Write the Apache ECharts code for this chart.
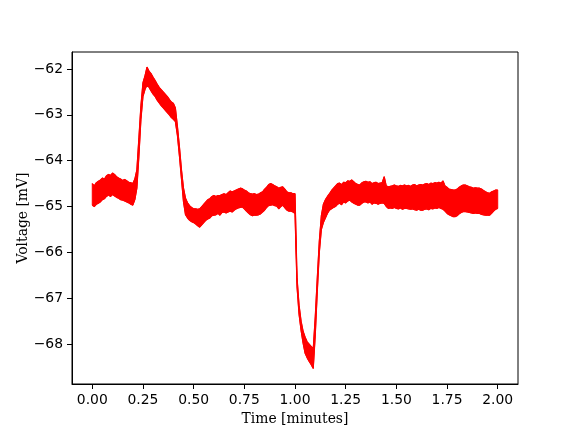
<!DOCTYPE html>
<html>
<head>
<meta charset="utf-8">
<script src="https://cdn.jsdelivr.net/npm/echarts@6/dist/echarts.min.js"></script>
<style>html,body{margin:0;padding:0;background:#fff;}#c{width:576px;height:432px;}</style>
</head>
<body>
<div id="c"></div>
<script>
// Upper envelope of the noisy trace (mV), sampled every 0.01 min from 0.00 to 2.00
const upper = [
  -64.50,-64.55,-64.48,-64.45,-64.42,-64.38,-64.40,-64.33,-64.30,-64.32,
  -64.27,-64.30,-64.35,-64.38,-64.40,-64.43,-64.41,-64.44,-64.47,-64.48,
  -64.50,-64.40,-64.20,-63.50,-62.80,-62.30,-62.15,-61.96,-62.05,-62.10,
  -62.18,-62.25,-62.33,-62.40,-62.45,-62.50,-62.55,-62.60,-62.66,-62.72,
  -62.75,-62.85,-63.25,-63.70,-64.20,-64.60,-64.82,-64.92,-64.98,-65.02,
  -65.05,-65.05,-65.06,-65.05,-65.00,-64.95,-64.90,-64.85,-64.83,-64.78,
  -64.76,-64.78,-64.76,-64.76,-64.74,-64.72,-64.74,-64.70,-64.66,-64.68,
  -64.66,-64.64,-64.62,-64.60,-64.61,-64.64,-64.66,-64.70,-64.72,-64.73,
  -64.72,-64.74,-64.73,-64.70,-64.68,-64.62,-64.58,-64.52,-64.50,-64.52,
  -64.55,-64.57,-64.60,-64.58,-64.57,-64.62,-64.68,-64.70,-64.70,-64.72,
  -64.72,-66.55,-67.15,-67.50,-67.72,-67.85,-67.95,-68.00,-68.05,-68.10,
  -67.40,-66.55,-65.75,-65.20,-64.95,-64.85,-64.78,-64.72,-64.65,-64.60,
  -64.55,-64.50,-64.49,-64.52,-64.47,-64.48,-64.44,-64.45,-64.42,-64.46,
  -64.50,-64.52,-64.53,-64.48,-64.46,-64.45,-64.47,-64.46,-64.50,-64.48,
  -64.47,-64.50,-64.49,-64.48,-64.35,-64.55,-64.57,-64.56,-64.55,-64.53,
  -64.55,-64.56,-64.54,-64.55,-64.53,-64.55,-64.54,-64.56,-64.53,-64.52,
  -64.55,-64.53,-64.52,-64.53,-64.51,-64.50,-64.52,-64.49,-64.50,-64.48,
  -64.49,-64.47,-64.49,-64.44,-64.55,-64.58,-64.62,-64.63,-64.64,-64.64,
  -64.62,-64.58,-64.55,-64.53,-64.53,-64.55,-64.57,-64.58,-64.60,-64.59,
  -64.60,-64.60,-64.62,-64.65,-64.68,-64.70,-64.71,-64.68,-64.66,-64.64,
  -64.64
];
// Lower envelope of the noisy trace (mV), same sample times
const lower = [
  -64.97,-65.00,-64.95,-64.93,-64.90,-64.85,-64.83,-64.78,-64.75,-64.78,
  -64.74,-64.77,-64.80,-64.82,-64.85,-64.86,-64.88,-64.90,-64.92,-64.95,
  -64.97,-64.85,-64.60,-63.90,-63.10,-62.60,-62.45,-62.35,-62.40,-62.48,
  -62.55,-62.60,-62.68,-62.74,-62.80,-62.85,-62.90,-62.95,-63.00,-63.06,
  -63.10,-63.15,-63.45,-63.90,-64.40,-64.90,-65.18,-65.25,-65.30,-65.33,
  -65.35,-65.38,-65.42,-65.45,-65.40,-65.35,-65.30,-65.27,-65.25,-65.20,
  -65.19,-65.18,-65.15,-65.19,-65.13,-65.12,-65.14,-65.12,-65.10,-65.12,
  -65.08,-65.05,-65.03,-65.02,-65.01,-65.05,-65.10,-65.14,-65.18,-65.20,
  -65.19,-65.19,-65.18,-65.16,-65.12,-65.08,-65.02,-64.98,-64.97,-64.96,
  -64.98,-64.99,-65.05,-65.00,-64.97,-65.03,-65.08,-65.10,-65.10,-65.12,
  -65.15,-66.75,-67.35,-67.70,-67.98,-68.20,-68.30,-68.38,-68.45,-68.53,
  -67.80,-66.85,-66.00,-65.50,-65.35,-65.25,-65.15,-65.08,-65.05,-65.02,
  -65.00,-64.95,-64.93,-64.96,-64.90,-64.92,-64.88,-64.86,-64.90,-64.93,
  -64.95,-64.97,-64.97,-64.93,-64.90,-64.90,-64.92,-64.90,-64.95,-64.92,
  -64.93,-64.95,-64.93,-64.92,-64.93,-65.00,-65.04,-65.03,-65.04,-65.02,
  -65.04,-65.05,-65.03,-65.06,-65.04,-65.04,-65.05,-65.06,-65.05,-65.07,
  -65.08,-65.06,-65.08,-65.08,-65.06,-65.05,-65.07,-65.04,-65.05,-65.03,
  -65.04,-65.02,-65.04,-65.06,-65.10,-65.15,-65.18,-65.20,-65.22,-65.22,
  -65.20,-65.16,-65.13,-65.11,-65.11,-65.12,-65.13,-65.14,-65.15,-65.14,
  -65.15,-65.15,-65.17,-65.18,-65.19,-65.19,-65.19,-65.15,-65.10,-65.06,
  -65.04
];
const sampleStep = 0.01; // minutes between envelope samples
const xTicks = [0, 0.25, 0.5, 0.75, 1.0, 1.25, 1.5, 1.75, 2.0];
const yTicks = [-68, -67, -66, -65, -64, -63, -62];

const time = upper.map((_, i) => +(i * sampleStep).toFixed(2));
const upData = time.map((t, i) => [t, upper[i]]);
const lowData = time.map((t, i) => [t, lower[i]]);

const chart = echarts.init(document.getElementById('c'), null, {renderer: 'canvas'});
const tickFont = {fontFamily: 'DejaVu Sans', fontSize: 13.9, color: '#000'};
const RED = '#ff0000';
chart.setOption({
  animation: false,
  backgroundColor: '#fff',
  grid: {left: 72, right: 58, top: 52, bottom: 48, show: true, borderColor: '#000', borderWidth: 1, backgroundColor: 'transparent'},
  xAxis: {
    type: 'value', min: -0.1, max: 2.1,
    name: 'Time [minutes]', nameLocation: 'middle', nameGap: 28,
    nameTextStyle: {fontFamily: 'DejaVu Serif', fontSize: 13.9, color: '#000'},
    axisLine: {show: true, onZero: false, lineStyle: {color: '#000', width: 1}},
    axisTick: {show: true, length: 5, customValues: xTicks, lineStyle: {color: '#000', width: 1}},
    axisLabel: Object.assign({customValues: xTicks, margin: 9, formatter: v => v.toFixed(2)}, tickFont),
    splitLine: {show: false}
  },
  yAxis: {
    type: 'value', min: -68.87, max: -61.63,
    name: 'Voltage [mV]', nameLocation: 'middle', nameGap: 42, nameMoveOverlap: false,
    nameTextStyle: {fontFamily: 'DejaVu Serif', fontSize: 13.9, color: '#000'},
    axisLine: {show: true, onZero: false, lineStyle: {color: '#000', width: 1}},
    axisTick: {show: true, length: 5, customValues: yTicks, lineStyle: {color: '#000', width: 1}},
    axisLabel: Object.assign({customValues: yTicks, margin: 9, formatter: v => (v < 0 ? '\u2212' : '') + Math.abs(v)}, tickFont),
    splitLine: {show: false}
  },
  series: [
    {
      // filled noise band between the envelopes
      type: 'custom',
      data: [[0]],
      silent: true,
      z: 2,
      renderItem: function (params, api) {
        const pts = [];
        for (let i = 0; i < time.length; i++) pts.push(api.coord([time[i], upper[i]]));
        for (let i = time.length - 1; i >= 0; i--) pts.push(api.coord([time[i], lower[i]]));
        return {type: 'polygon', shape: {points: pts}, style: {fill: RED, stroke: RED, lineWidth: 1}};
      }
    },
    {type: 'line', data: upData, symbol: 'none', lineStyle: {color: RED, width: 1.2}, z: 3},
    {type: 'line', data: lowData, symbol: 'none', lineStyle: {color: RED, width: 1.2}, z: 3}
  ]
});
</script>
</body>
</html>
